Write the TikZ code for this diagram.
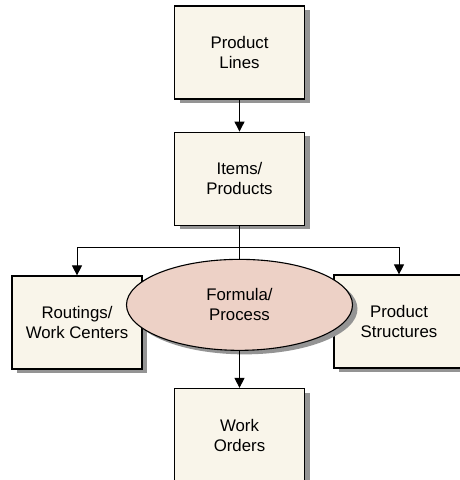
\documentclass[tikz,border=0pt]{standalone}
\usepackage{fontspec}
\setmainfont{Liberation Sans}
\usepackage{tikz}
\usetikzlibrary{positioning}
\usetikzlibrary{shapes.geometric}
\usetikzlibrary{shadows}
\usetikzlibrary{arrows.meta}
\definecolor{boxfill}{HTML}{F9F5EA}
\definecolor{ovalfill}{HTML}{EDD1C6}
\tikzstyle{boxshadow} = [general shadow={fill=black!42, shadow xshift=5pt, shadow yshift=-4pt}]
\tikzstyle{block} = [draw, line width=1.2pt, rectangle, fill=boxfill, minimum height=93pt, minimum width=130pt, align=center, boxshadow]
\tikzstyle{oval} = [draw, line width=1.1pt, ellipse, fill=ovalfill, minimum height=91pt, minimum width=226pt, inner sep=0pt, align=center, boxshadow]
\tikzstyle{coord} = [coordinate]
\tikzstyle{link} = [line width=0.9pt]

\begin{document}
\begin{tikzpicture}[x=1pt,y=1pt,node distance=32pt,>={Triangle[length=10pt,width=10pt]},font=\fontsize{16.8pt}{20pt}\selectfont]
    \useasboundingbox (0,0) rectangle (460,-480);
    \node [block] (lines) at (239.5,-52.5) {Product\\Lines};
    \node [block, below = 32pt of lines] (items) {Items/\\Products};
    \node [coord, below = 22pt of items] (split) {};
    \node [block] (routing) at (77,-322.5) {Routings/\\Work Centers};
    \node [block] (structures) at (399,-321.5) {Product\\Structures};
    \node [oval, below = 33pt of items] (formula) {Formula/\\Process};
    \node [block, below = 37pt of formula] (orders) {Work\\Orders};

    \draw [link,->] (lines) -- (items); % connections
    \draw [link] (items) -- (formula);
    \draw [link,->] (split) -| (routing);
    \draw [link,->] (split) -| (structures);
    \draw [link,->] (formula) -- (orders);
\end{tikzpicture}
\end{document}
